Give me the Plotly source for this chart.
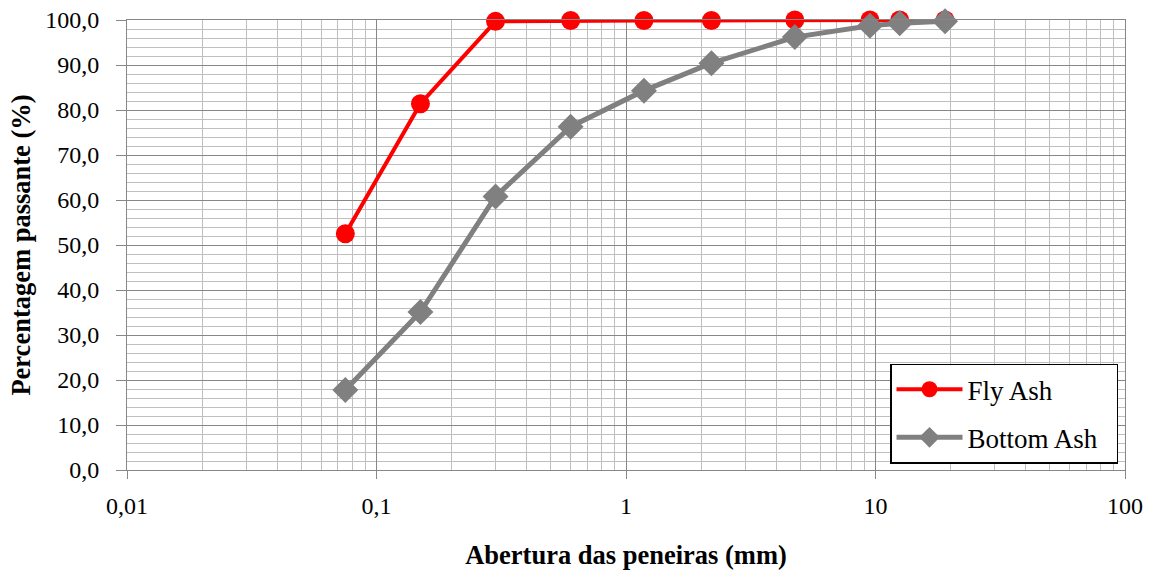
import plotly.graph_objects as go

# Sieve openings (mm) and cumulative percent passing
aberturas = [0.075, 0.15, 0.3, 0.6, 1.18, 2.2, 4.75, 9.5, 12.5, 19]
fly_ash = [52.5, 81.4, 99.7, 99.9, 99.9, 99.9, 100.0, 100.0, 100.0, 100.0]
bottom_ash = [17.8, 35.1, 60.8, 76.3, 84.3, 90.4, 96.2, 98.7, 99.3, 99.7]

x_tickvals = [0.01, 0.1, 1, 10, 100]
x_ticktext = ["0,01", "0,1", "1", "10", "100"]

serif = "Liberation Serif"
major_grid = "#878787"
minor_grid = "#bfbfbf"
pad = "\u00a0\u00a0"  # right padding inside the legend box

fig = go.Figure()
fig.add_trace(go.Scatter(
    x=aberturas, y=fly_ash, name="Fly Ash" + pad, mode="lines+markers",
    legendgroup="fly", cliponaxis=False,
    line=dict(color="#ff0000", width=4),
    marker=dict(symbol="circle", size=19, color="#ff0000"),
))
fig.add_trace(go.Scatter(
    x=aberturas, y=bottom_ash, name="Bottom Ash" + pad, mode="lines+markers",
    legendgroup="bottom", cliponaxis=False,
    line=dict(color="#808080", width=5),
    marker=dict(symbol="diamond", size=20, color="#808080"),
))

fig.update_layout(
    width=1156, height=570,
    margin=dict(l=127, r=31, t=20, b=100),
    paper_bgcolor="white", plot_bgcolor="white",
    separators=",.",
    font=dict(family=serif, size=24, color="black"),
    showlegend=True,
    legend=dict(
        x=0.993, y=0.014, xanchor="right", yanchor="bottom",
        bgcolor="white", bordercolor="black", borderwidth=1.5,
        font=dict(family=serif, size=27, color="black"),
        itemwidth=66, tracegroupgap=10,
    ),
)

fig.update_xaxes(
    type="log", range=[-2, 2], automargin=False,
    tickvals=x_tickvals, ticktext=x_ticktext,
    ticks="outside", ticklen=8, tickcolor=major_grid, ticklabelstandoff=6,
    showgrid=True, gridcolor=major_grid, gridwidth=1,
    minor=dict(dtick="D1", showgrid=True, gridcolor=minor_grid, gridwidth=1, ticks=""),
    showline=True, linecolor=major_grid, linewidth=1, mirror=True,
    zeroline=False,
    tickfont=dict(family=serif, size=24),
    title=dict(text="<b>Abertura das peneiras (mm)</b>", font=dict(family=serif, size=26.5), standoff=30),
)
fig.update_yaxes(
    range=[0, 100], dtick=10, tickformat=".1f", automargin=False,
    ticks="outside", ticklen=10, tickcolor=major_grid, ticklabelstandoff=12,
    showgrid=True, gridcolor=major_grid, gridwidth=1,
    minor=dict(dtick=2, showgrid=True, gridcolor=minor_grid, gridwidth=1, ticks=""),
    showline=True, linecolor=major_grid, linewidth=1, mirror=True,
    zeroline=False,
    tickfont=dict(family=serif, size=24),
    title=dict(text="<b>Percentagem passante (%)</b>", font=dict(family=serif, size=26.5), standoff=6),
)

fig.write_html("out.html")
